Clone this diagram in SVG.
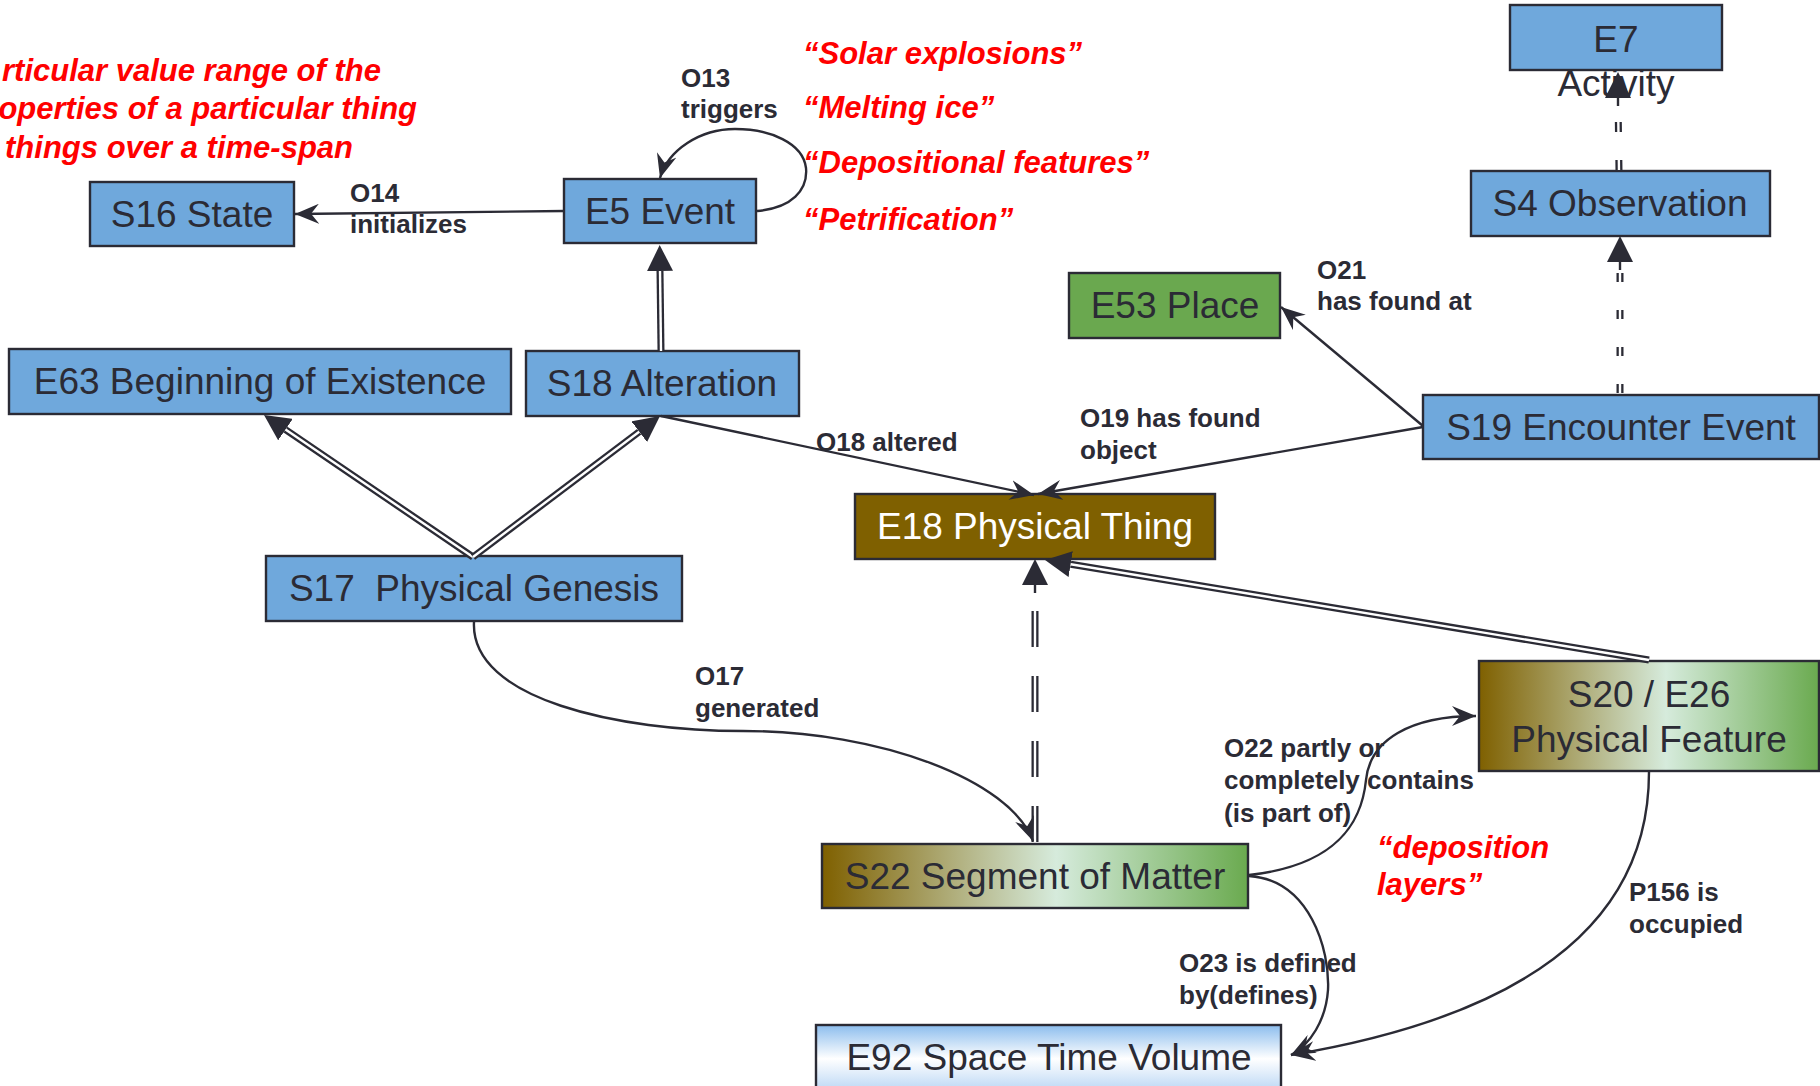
<svg xmlns="http://www.w3.org/2000/svg" width="1820" height="1086" viewBox="0 0 1820 1086">
<defs>
<linearGradient id="gFeat" x1="0" y1="0" x2="1" y2="0">
<stop offset="0" stop-color="#7F6000"/>
<stop offset="0.55" stop-color="#D6EBDC"/>
<stop offset="1" stop-color="#6AAA4F"/>
</linearGradient>
<linearGradient id="gStv" x1="0" y1="0" x2="0" y2="1">
<stop offset="0" stop-color="#8CBDEE"/>
<stop offset="0.45" stop-color="#FFFFFF"/>
<stop offset="1" stop-color="#A8CCF2"/>
</linearGradient>
<marker id="barb" viewBox="0 0 24 20" refX="24" refY="10" markerWidth="24" markerHeight="20" markerUnits="userSpaceOnUse" orient="auto">
<path d="M0,0 L24,10 L0,20 L8,10 Z" fill="#2b2b35"/>
</marker>
<marker id="tri" viewBox="0 0 26 26" refX="0" refY="13" markerWidth="26" markerHeight="26" markerUnits="userSpaceOnUse" orient="auto">
<path d="M0,0 L26,13 L0,26 Z" fill="#2b2b35"/>
</marker>
<style>
.box{stroke:#2b2b35;stroke-width:2.4}
.blue{fill:#6FA8DC}
.nt{font-family:"Liberation Sans",Arial,sans-serif;font-size:37px;fill:#2b2b35;text-anchor:middle}
.lbl{font-family:"Liberation Sans",Arial,sans-serif;font-size:26px;font-weight:bold;fill:#2b2b35}
.red{font-family:"Liberation Sans",Arial,sans-serif;font-size:31px;font-weight:bold;font-style:italic;fill:#FF0000}
.ln{fill:none;stroke:#2b2b35;stroke-width:2.4}
.dbl{fill:none;stroke:#2b2b35;stroke-width:7}
.dblw{fill:none;stroke:#ffffff;stroke-width:2.4}
</style>
</defs>
<rect width="1820" height="1086" fill="#ffffff"/>

<g id="annotations">
<text class="red" text-anchor="end" x="381" y="81">rticular value range of the</text>
<text class="red" text-anchor="end" x="417" y="119">operties of a particular thing</text>
<text class="red" text-anchor="end" x="353" y="158">things over a time-span</text>
<text class="red" x="803" y="64">“Solar explosions”</text>
<text class="red" x="803" y="118">“Melting ice”</text>
<text class="red" x="803" y="173">“Depositional features”</text>
<text class="red" x="803" y="230">“Petrification”</text>
<text class="red" x="1377" y="858">“deposition</text>
<text class="red" x="1377" y="895">layers”</text>
</g>

<g id="node-e7">
<rect class="box blue" x="1510" y="5" width="212" height="65"/>
<text class="nt" x="1616" y="52">E7</text>
<text class="nt" x="1616" y="96">Activity</text>
</g>
<g id="node-s4">
<rect class="box blue" x="1471" y="171" width="299" height="65"/>
<text class="nt" x="1620" y="216">S4 Observation</text>
</g>
<g id="node-s16">
<rect class="box blue" x="90" y="182" width="204" height="64"/>
<text class="nt" x="192" y="227">S16 State</text>
</g>
<g id="node-e5">
<rect class="box blue" x="564" y="179" width="192" height="64"/>
<text class="nt" x="660" y="224">E5 Event</text>
</g>
<g id="node-e63">
<rect class="box blue" x="9" y="349" width="502" height="65"/>
<text class="nt" x="260" y="394">E63 Beginning of Existence</text>
</g>
<g id="node-s18">
<rect class="box blue" x="526" y="351" width="273" height="65"/>
<text class="nt" x="662" y="396">S18 Alteration</text>
</g>
<g id="node-s17">
<rect class="box blue" x="266" y="556" width="416" height="65"/>
<text class="nt" x="474" y="601" xml:space="preserve">S17  Physical Genesis</text>
</g>
<g id="node-e53">
<rect class="box" fill="#6AA84F" x="1069" y="273" width="211" height="65"/>
<text class="nt" x="1175" y="318">E53 Place</text>
</g>
<g id="node-s19">
<rect class="box blue" x="1423" y="395" width="396" height="64"/>
<text class="nt" x="1621" y="440">S19 Encounter Event</text>
</g>
<g id="node-e18">
<rect class="box" fill="#7F6000" x="855" y="494" width="360" height="65"/>
<text class="nt" x="1035" y="539" style="fill:#ffffff">E18 Physical Thing</text>
</g>
<g id="node-s20">
<rect class="box" fill="url(#gFeat)" x="1479" y="661" width="340" height="110"/>
<text class="nt" x="1649" y="707">S20 / E26</text>
<text class="nt" x="1649" y="752">Physical Feature</text>
</g>
<g id="node-s22">
<rect class="box" fill="url(#gFeat)" x="822" y="844" width="426" height="64"/>
<text class="nt" x="1035" y="889">S22 Segment of Matter</text>
</g>
<g id="node-e92">
<rect class="box" fill="url(#gStv)" x="816" y="1025" width="465" height="75"/>
<text class="nt" x="1049" y="1070">E92 Space Time Volume</text>
</g>

<g id="connectors">
<path class="ln" marker-end="url(#barb)" d="M757,211 C792,208 808,190 806,168 C803,143 770,129 735,129 C700,129 668,150 660,178"/>
<path class="ln" marker-end="url(#barb)" d="M564,211 L295,214"/>
<path class="dbl" marker-end="url(#tri)" d="M661,351 L660,271"/>
<path class="dblw" d="M661,351 L660,271"/>
<path class="dbl" marker-end="url(#tri)" d="M473,557 L285.5,429.6"/>
<path class="dblw" d="M473,557 L285.5,429.6"/>
<path class="dbl" marker-end="url(#tri)" d="M473,557 L639.2,431.7"/>
<path class="dblw" d="M473,557 L639.2,431.7"/>
<path class="ln" marker-end="url(#barb)" d="M661,416 L1034,495"/>
<path class="ln" marker-end="url(#barb)" d="M1423,427 L1038,494"/>
<path class="ln" marker-end="url(#barb)" d="M1423,426 L1281,307"/>
<path class="dbl" stroke-dasharray="9 28" stroke-dashoffset="34" d="M1620,396 L1620,262"/>
<path class="dblw" stroke-dasharray="9 28" stroke-dashoffset="34" d="M1620,396 L1620,262"/>
<path class="ln" stroke="none" marker-end="url(#tri)" d="M1620,270 L1620,262"/>
<path class="dbl" stroke-dasharray="10 28" stroke-dashoffset="37" d="M1619,171 L1618,98"/>
<path class="dblw" stroke-dasharray="10 28" stroke-dashoffset="37" d="M1619,171 L1618,98"/>
<path class="ln" stroke="none" marker-end="url(#tri)" d="M1618,106 L1618,98"/>
<path class="dbl" stroke-dasharray="36 29" d="M1035,842 L1035,585"/>
<path class="dblw" stroke-dasharray="36 29" d="M1035,842 L1035,585"/>
<path class="ln" stroke="none" marker-end="url(#tri)" d="M1035,593 L1035,585"/>
<path class="dbl" marker-end="url(#tri)" d="M1649,660 L1070.7,564.2"/>
<path class="dblw" d="M1649,660 L1070.7,564.2"/>
<path class="ln" marker-end="url(#barb)" d="M474,622 C470,700 620,731 743,731 C880,731 1010,780 1033,841"/>
<path class="ln" marker-end="url(#barb)" d="M1249,875 C1340,865 1362,820 1366,780 C1370,740 1410,716 1476,716"/>
<path class="ln" marker-end="url(#barb)" d="M1249,876 C1310,880 1330,950 1328,990 C1326,1020 1310,1045 1291,1055"/>
<path class="ln" marker-end="url(#barb)" d="M1649,772 C1649,900 1560,1010 1291,1055"/>
</g>

<g id="labels">
<text class="lbl" x="681" y="87">O13</text>
<text class="lbl" x="681" y="118">triggers</text>
<text class="lbl" x="350" y="202">O14</text>
<text class="lbl" x="350" y="233">initializes</text>
<text class="lbl" x="816" y="451">O18 altered</text>
<text class="lbl" x="1080" y="427">O19 has found</text>
<text class="lbl" x="1080" y="459">object</text>
<text class="lbl" x="1317" y="279">O21</text>
<text class="lbl" x="1317" y="310">has found at</text>
<text class="lbl" x="695" y="685">O17</text>
<text class="lbl" x="695" y="717">generated</text>
<text class="lbl" x="1224" y="757">O22 partly or</text>
<text class="lbl" x="1224" y="789">completely contains</text>
<text class="lbl" x="1224" y="822">(is part of)</text>
<text class="lbl" x="1179" y="972">O23 is defined</text>
<text class="lbl" x="1179" y="1004">by(defines)</text>
<text class="lbl" x="1629" y="901">P156 is</text>
<text class="lbl" x="1629" y="933">occupied</text>
</g>
</svg>
